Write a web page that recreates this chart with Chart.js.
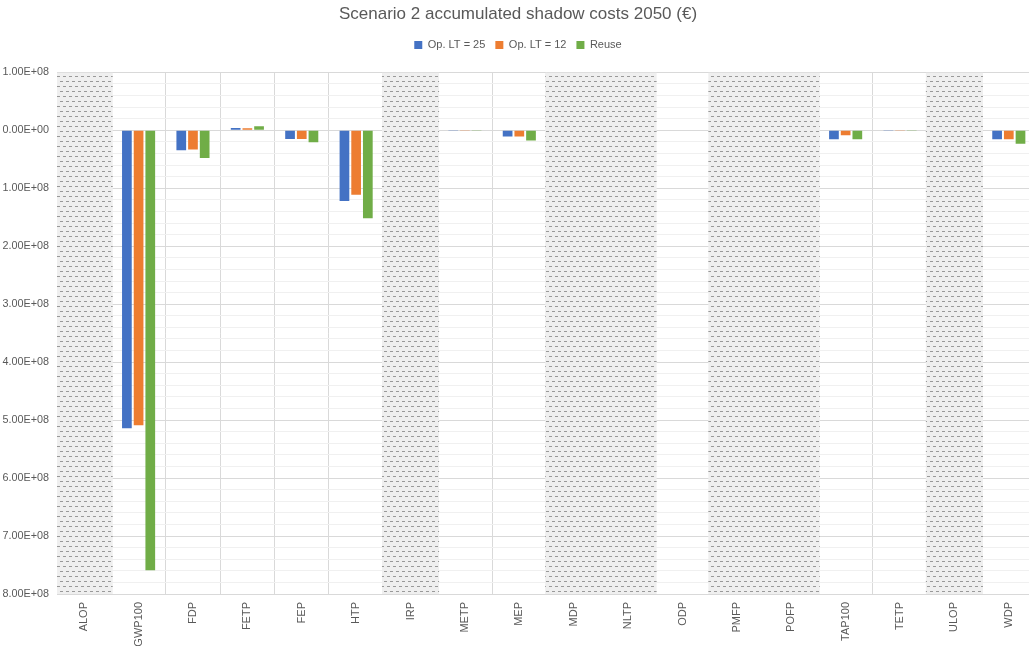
<!DOCTYPE html>
<html>
<head>
<meta charset="utf-8">
<script src="https://cdn.jsdelivr.net/npm/chart.js@4/dist/chart.umd.min.js"></script>
<style>
  html, body { margin: 0; padding: 0; background: #fff; overflow: hidden; }
  #wrap { width: 1036px; height: 646px; }
</style>
</head>
<body>
<div id="wrap"><canvas id="chart"></canvas></div>
<script>
// categories and series (negative values shown without sign on the axis)
const categories = ['ALOP','GWP100','FDP','FETP','FEP','HTP','IRP','METP','MEP','MDP','NLTP','ODP','PMFP','POFP','TAP100','TETP','ULOP','WDP'];
const opLT25 = [null, -5.14e8, -3.45e7, 4.1e6, -1.5e7, -1.22e8, null, -1.2e6, -1.05e7, null, null, -8e5, null, null, -1.55e7, -1.0e6, null, -1.55e7];
const opLT12 = [null, -5.09e8, -3.3e7, 3.7e6, -1.5e7, -1.11e8, null, -1.2e6, -1.05e7, null, null, -5e5, null, null, -8.6e6, -1.0e6, null, -1.55e7];
const reuse  = [null, -7.59e8, -4.75e7, 6.9e6, -2.05e7, -1.515e8, null, -1.2e6, -1.75e7, null, null, -8e5, null, null, -1.55e7, -1.0e6, null, -2.3e7];
// categories greyed out with a hatch band
const hatchedCats = ['ALOP','IRP','MDP','NLTP','PMFP','POFP','ULOP'];
const yMin = -8e8, yMax = 1e8;

// dashed horizontal pattern
function makePattern() {
  const c = document.createElement('canvas');
  c.width = 6; c.height = 10;
  const g = c.getContext('2d');
  g.fillStyle = '#efefef';
  g.fillRect(0, 0, 6, 10);
  g.fillStyle = '#999999';
  g.fillRect(0, 1, 3, 1);
  g.fillRect(3, 6, 3, 1);
  return g.createPattern(c, 'repeat');
}

function sci(v) {
  if (v === 0) return '0.00E+00';
  const a = Math.abs(v);
  const e = Math.floor(Math.log10(a) + 1e-9);
  return (a / Math.pow(10, e)).toFixed(2) + 'E+' + String(e).padStart(2, '0');
}
function isMajor(v) {
  const r = v / 1e8;
  return Math.abs(r - Math.round(r)) < 1e-6;
}

const grey = '#595959';
const font = { family: 'Liberation Sans, Arial, sans-serif', size: 11 };

const hatchBand = categories.map(c => hatchedCats.includes(c) ? [yMin, yMax] : null);

// extra room under the legend
const legendGap = {
  id: 'legendGap',
  beforeInit(chart) {
    const fit = chart.legend.fit;
    chart.legend.fit = function () {
      fit.bind(chart.legend)();
      this.height += 12;
    };
  }
};

new Chart(document.getElementById('chart'), {
  type: 'bar',
  data: {
    labels: categories,
    datasets: [
      { label: 'Op. LT = 25', data: opLT25, backgroundColor: '#4472C4', order: 1 },
      { label: 'Op. LT = 12', data: opLT12, backgroundColor: '#ED7D31', order: 1 },
      { label: 'Reuse', data: reuse, backgroundColor: '#70AD47', order: 1 },
      { label: 'hatch', data: hatchBand, backgroundColor: makePattern(), grouped: false,
        barPercentage: 1, categoryPercentage: 1.05, order: 2 }
    ]
  },
  plugins: [legendGap],
  options: {
    responsive: true,
    maintainAspectRatio: false,
    animation: false,
    layout: { padding: 0 },
    datasets: { bar: { categoryPercentage: 0.645, barPercentage: 0.83 } },
    plugins: {
      title: {
        display: true,
        text: 'Scenario 2 accumulated shadow costs 2050 (€)',
        color: grey,
        font: { family: font.family, size: 17, weight: 'normal' },
        padding: { top: 4, bottom: 5 }
      },
      legend: {
        labels: {
          filter: item => item.text !== 'hatch',
          boxWidth: 8, boxHeight: 8, color: grey, font: font, padding: 10
        }
      },
      tooltip: { enabled: false }
    },
    scales: {
      x: {
        offset: true,
        grid: { offset: true, color: '#d9d9d9', drawTicks: false },
        border: { display: true, color: '#d9d9d9' },
        ticks: { color: grey, font: font, minRotation: 90, maxRotation: 90, padding: 8, autoSkip: false },
        afterFit: s => { s.height = 52; }
      },
      y: {
        min: yMin, max: yMax,
        grid: {
          drawTicks: false,
          color: ctx => isMajor(ctx.tick.value) ? '#d9d9d9' : '#f0f0f0'
        },
        border: { display: false },
        ticks: {
          stepSize: 2e7, autoSkip: false, color: grey, font: { family: font.family, size: 10.8 }, padding: 8,
          callback: v => isMajor(v) ? sci(v) : ''
        },
        afterFit: s => { s.width = 57; }
      }
    }
  }
});
</script>
</body>
</html>
